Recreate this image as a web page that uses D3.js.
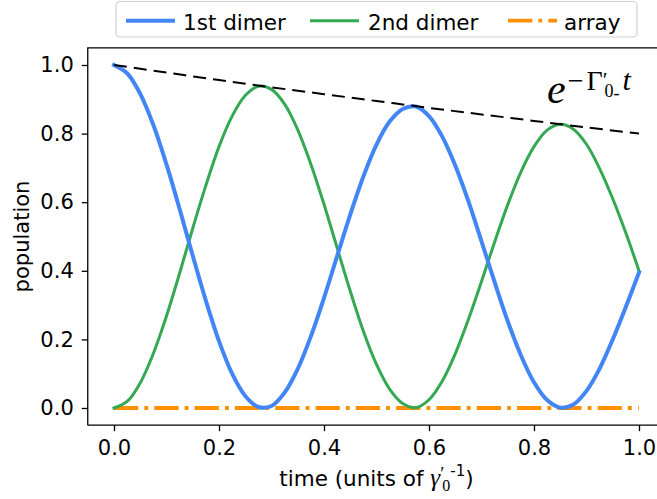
<!DOCTYPE html>
<html><head><meta charset="utf-8">
<script src="https://cdn.jsdelivr.net/npm/d3@7"></script>
<style>
body{margin:0;background:#fff;}
svg{display:block;}
</style></head><body>
<svg id="chart" width="657" height="499"></svg>
<script>
// ---- data ----
const times = [0,0.025,0.05,0.075,0.1,0.125,0.15,0.175,0.2,0.225,0.25,0.275,0.3,0.325,0.35,0.375,0.4,0.425,0.45,0.475,0.5,0.525,0.55,0.575,0.6,0.625,0.65,0.675,0.7,0.725,0.75,0.775,0.8,0.825,0.85,0.875,0.9,0.925,0.95,0.975,1.0];
const dimer1 = [1.000,0.976,0.916,0.825,0.710,0.580,0.444,0.313,0.195,0.100,0.035,0.003,0.006,0.045,0.114,0.209,0.321,0.443,0.564,0.675,0.768,0.835,0.872,0.879,0.851,0.792,0.707,0.603,0.486,0.367,0.253,0.154,0.075,0.023,0.001,0.010,0.050,0.115,0.200,0.295,0.395];
const dimer2 = [0.000,0.019,0.073,0.159,0.268,0.393,0.524,0.649,0.762,0.851,0.911,0.938,0.929,0.886,0.811,0.711,0.594,0.467,0.341,0.224,0.127,0.055,0.013,0.001,0.024,0.078,0.158,0.258,0.369,0.484,0.593,0.688,0.762,0.810,0.827,0.813,0.769,0.698,0.610,0.510,0.400];
const arrayPop = [0,0,0,0,0,0,0,0,0,0,0,0,0,0,0,0,0,0,0,0,0,0,0,0,0,0,0,0,0,0,0,0,0,0,0,0,0,0,0,0,0];
const envTimes = [0,0.1,0.2,0.3,0.4,0.5,0.6,0.7,0.8,0.9,1.0];
const envelope = [1.000,0.978,0.956,0.935,0.915,0.895,0.875,0.856,0.837,0.818,0.800];
const xTicks = [0,0.2,0.4,0.6,0.8,1.0];
const yTicks = [0,0.2,0.4,0.6,0.8,1.0];
const seriesNames = ["1st dimer","2nd dimer","array"];
const seriesColors = ["#4285F4","#34A853","#FF9100"];

// ---- layout ----
const SANS = "'DejaVu Sans', sans-serif";
const SERIF = "'Liberation Serif', 'DejaVu Serif', serif";
const svg = d3.select("#chart");
const axL = 87.75, axR = 665.25, axT = 47.85, axB = 425.15;
const x = d3.scaleLinear().domain([-0.05,1.05]).range([axL,axR]);
const y = d3.scaleLinear().domain([-0.05,1.05]).range([axB,axT]);

svg.append("defs").append("clipPath").attr("id","clip")
  .append("rect").attr("x",axL).attr("y",axT).attr("width",axR-axL).attr("height",axB-axT);

const plot = svg.append("g").attr("clip-path","url(#clip)");
const line = d3.line().x(d=>x(d[0])).y(d=>y(d[1])).curve(d3.curveCatmullRom);
const pts = arr => times.map((t,i)=>[t,arr[i]]);

plot.append("path").datum(pts(arrayPop)).attr("d",line)
  .attr("fill","none").attr("stroke",seriesColors[2]).attr("stroke-width",3.8)
  .attr("stroke-dasharray","24.3,6.1,3.8,6.1");
plot.append("path").datum(pts(dimer2)).attr("d",line)
  .attr("fill","none").attr("stroke",seriesColors[1]).attr("stroke-width",3)
  .attr("stroke-linejoin","round").attr("stroke-linecap","square");
plot.append("path").datum(pts(dimer1)).attr("d",line)
  .attr("fill","none").attr("stroke",seriesColors[0]).attr("stroke-width",4)
  .attr("stroke-linejoin","round").attr("stroke-linecap","square");
plot.append("path").datum(envTimes.map((t,i)=>[t,envelope[i]])).attr("d",line)
  .attr("fill","none").attr("stroke","#000").attr("stroke-width",2)
  .attr("stroke-dasharray","13,7");

// ---- axes ----
const fmt = d3.format(".1f");
const gx = svg.append("g").attr("transform",`translate(0,${axB})`)
  .call(d3.axisBottom(x).tickValues(xTicks).tickFormat(fmt).tickSize(6).tickPadding(9).tickSizeOuter(0));
const gy = svg.append("g").attr("transform",`translate(${axL},0)`)
  .call(d3.axisLeft(y).tickValues(yTicks).tickFormat(fmt).tickSize(6).tickPadding(8).tickSizeOuter(0));
[gx,gy].forEach(g=>{
  g.select(".domain").remove();
  g.selectAll("line").attr("stroke","#000").attr("stroke-width",1.3);
  g.selectAll("text").attr("font-size",21).style("font-family",SANS).attr("fill","#000");
});
const sp = svg.append("g").attr("stroke","#000").attr("stroke-width",1.3).attr("fill","none");
sp.append("path").attr("d",`M${axL},${axB}V${axT}H${axR}`);
sp.append("path").attr("d",`M${axL},${axB}H${axR}`);

// axis labels
const xl = svg.append("text").attr("x",(axL+axR)/2).attr("y",486).attr("text-anchor","middle")
  .attr("font-size",21.5).style("font-family",SANS);
xl.append("tspan").text("time (units of ");
xl.append("tspan").style("font-family",SERIF).style("font-style","italic").attr("font-size",25).text("γ");
xl.append("tspan").style("font-family",SERIF).attr("font-size",19).attr("dy",-6).text("′");
xl.append("tspan").style("font-family",SERIF).attr("font-size",16).attr("dx",-2).attr("dy",11).text("0");
xl.append("tspan").attr("font-size",15).attr("dy",-15).text("-1");
xl.append("tspan").attr("dy",10).text(")");

svg.append("text").attr("transform","translate(29,236.5) rotate(-90)")
  .attr("text-anchor","middle").attr("font-size",21).style("font-family",SANS).text("population");

// formula label
const fl = svg.append("text").attr("x",547).attr("y",103).style("font-family",SERIF);
fl.append("tspan").style("font-style","italic").attr("font-size",42).text("e");
fl.append("tspan").attr("font-size",28).attr("dx",2).attr("dy",-13).text("−");
fl.append("tspan").attr("font-size",28).attr("dx",3).text("Γ");
fl.append("tspan").attr("font-size",22).attr("dy",-3).text("′");
fl.append("tspan").attr("font-size",18).attr("dx",-3).attr("dy",10).text("0");
fl.append("tspan").attr("font-size",18).attr("dy",2).text("‐");
fl.append("tspan").style("font-style","italic").attr("font-size",30).attr("dx",3).attr("dy",-9).text("t");

// ---- legend ----
const lg = svg.append("g");
lg.append("rect").attr("x",116).attr("y",1.5).attr("width",521).attr("height",35.5).attr("rx",4)
  .attr("fill","#fff").attr("fill-opacity",0.8).attr("stroke","#d0d0d0").attr("stroke-width",1.2);
const hx = [126,310,508];
const tx = [183,368,564];
const hw = [4,3,3.8];
seriesNames.forEach((name,i)=>{
  const h = lg.append("line").attr("x1",hx[i]).attr("x2",hx[i]+49).attr("y1",20.7).attr("y2",20.7)
    .attr("stroke",seriesColors[i]).attr("stroke-width",hw[i]);
  if(i===2) h.attr("stroke-dasharray","24.3,6.1,3.8,6.1");
  lg.append("text").attr("x",tx[i]).attr("y",29.5).attr("font-size",21.5).style("font-family",SANS).text(name);
});
</script>
</body></html>
